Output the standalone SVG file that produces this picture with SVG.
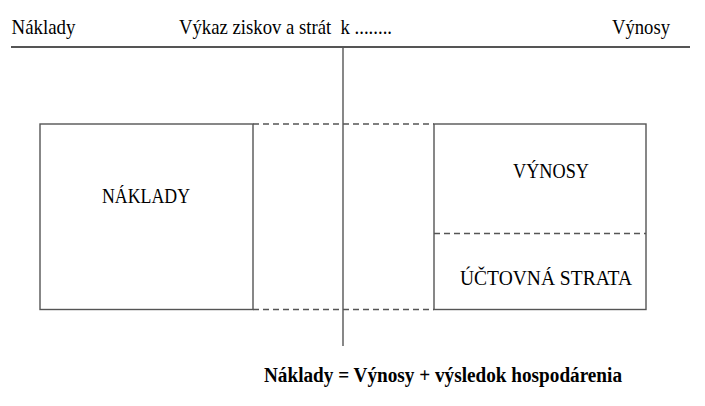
<svg xmlns="http://www.w3.org/2000/svg" width="705" height="406" viewBox="0 0 705 406">
<style>
  text { font-family: "Liberation Serif", "Times New Roman", serif; fill: #000; }
  .t { font-size: 22px; }
  .b { font-size: 20px; font-weight: bold; }
  .box { fill: #fff; stroke: #555; stroke-width: 1.4; }
  .dash { fill: none; stroke: #555; stroke-width: 1.4; stroke-dasharray: 6 4; }
  .solid { fill: none; stroke: #555; }
</style>
<rect width="705" height="406" fill="#fff"/>
<g id="header">
  <text class="t" x="11.5" y="34" textLength="64" lengthAdjust="spacingAndGlyphs">Náklady</text>
  <text class="t" x="179" y="34" textLength="213" lengthAdjust="spacingAndGlyphs" xml:space="preserve">Výkaz ziskov a strát  k ........</text>
  <text class="t" x="612" y="34" textLength="58" lengthAdjust="spacingAndGlyphs">Výnosy</text>
</g>
<g id="connectors">
  <line class="solid" x1="11" y1="47" x2="690" y2="47" stroke-width="2"/>
  <line class="solid" x1="343" y1="47" x2="343" y2="346" stroke-width="1.4"/>
  <line class="dash" x1="253" y1="124" x2="434" y2="124"/>
  <line class="dash" x1="253" y1="309.5" x2="434" y2="309.5"/>
</g>
<g id="naklady">
  <rect class="box" x="40" y="124" width="213" height="185.5"/>
  <text class="t" x="102" y="203" textLength="88" lengthAdjust="spacingAndGlyphs">NÁKLADY</text>
</g>
<g id="vynosy">
  <rect class="box" x="434" y="124" width="212" height="185.5"/>
  <line class="dash" x1="434" y1="233.5" x2="646" y2="233.5"/>
  <text class="t" x="513" y="178" textLength="76" lengthAdjust="spacingAndGlyphs">VÝNOSY</text>
  <text class="t" x="460" y="285" textLength="172" lengthAdjust="spacingAndGlyphs">ÚČTOVNÁ STRATA</text>
</g>
<g id="formula">
  <text class="b" x="264" y="382" textLength="358" lengthAdjust="spacingAndGlyphs">Náklady = Výnosy + výsledok hospodárenia</text>
</g>
</svg>
